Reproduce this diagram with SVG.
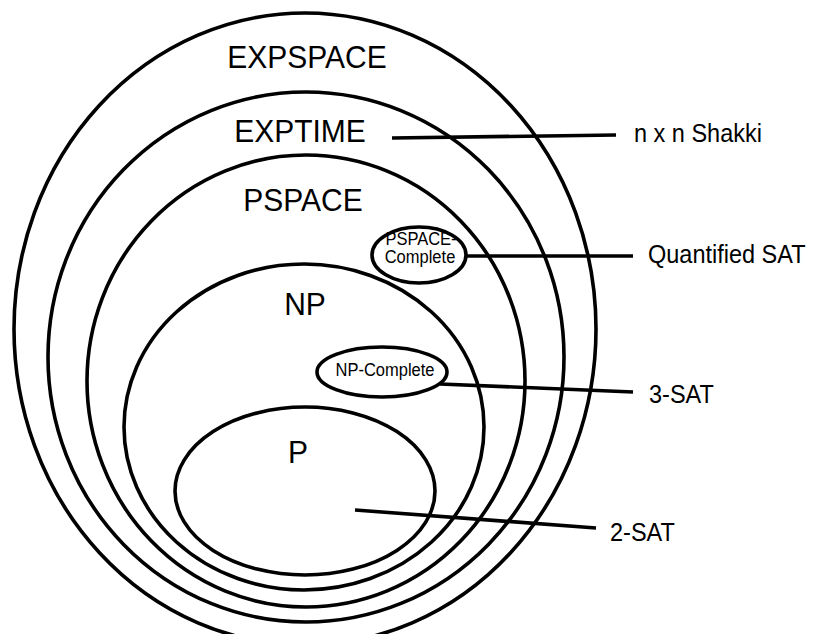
<svg xmlns="http://www.w3.org/2000/svg" width="814" height="634" viewBox="0 0 814 634">
<style>
.c{fill:none;stroke:#000;stroke-width:3.6}
.s{fill:#fff;stroke:#000;stroke-width:3.6}
.l{stroke:#000;stroke-width:3.6;fill:none;stroke-linecap:butt}
.big{font-family:"Liberation Sans",Arial,sans-serif;font-size:30px;fill:#000;text-anchor:middle}
.sm{font-family:"Liberation Sans",Arial,sans-serif;font-size:16.5px;fill:#000;text-anchor:middle}
.lab{font-family:"Liberation Sans",Arial,sans-serif;font-size:23.5px;fill:#000}
</style>
<rect width="814" height="634" fill="#fff"/>
<g id="expspace">
<ellipse class="c" cx="305" cy="329" rx="291" ry="316"/>
<text class="big" transform="translate(307 68) scale(1 1.06)">EXPSPACE</text>
</g>
<g id="exptime">
<ellipse class="c" cx="306" cy="357" rx="258" ry="265"/>
<text class="big" transform="translate(300 142) scale(1 1.06)">EXPTIME</text>
</g>
<g id="pspace">
<ellipse class="c" cx="306" cy="381" rx="219" ry="226"/>
<text class="big" transform="translate(303 211) scale(1 1.06)">PSPACE</text>
</g>
<g id="np">
<ellipse class="c" cx="304" cy="427" rx="180" ry="163"/>
<text class="big" transform="translate(305 315) scale(1 1.06)">NP</text>
</g>
<g id="p">
<ellipse class="c" cx="305" cy="491" rx="130" ry="84"/>
<text class="big" transform="translate(298 463) scale(1 1.06)">P</text>
</g>
<g id="connectors">
<line class="l" x1="392" y1="138" x2="616" y2="135"/>
<line class="l" x1="466" y1="256" x2="633" y2="256"/>
<line class="l" x1="440" y1="384" x2="633" y2="392"/>
<line class="l" x1="355" y1="510" x2="596" y2="528"/>
</g>
<g id="pspace-complete">
<ellipse class="s" cx="419" cy="255" rx="47" ry="28"/>
<text class="sm" transform="translate(421 245) scale(1 1.06)">PSPACE-</text>
<text class="sm" transform="translate(420 263) scale(1 1.06)">Complete</text>
</g>
<g id="np-complete">
<ellipse class="s" cx="382" cy="372" rx="65" ry="25"/>
<text class="sm" transform="translate(385 376) scale(1 1.06)">NP-Complete</text>
</g>
<g id="labels">
<text class="lab" transform="translate(634 142) scale(1 1.06)">n x n Shakki</text>
<text class="lab" transform="translate(648 263) scale(1 1.06)">Quantified SAT</text>
<text class="lab" transform="translate(649 403) scale(1 1.06)">3-SAT</text>
<text class="lab" transform="translate(610 541) scale(1 1.06)">2-SAT</text>
</g>
</svg>
